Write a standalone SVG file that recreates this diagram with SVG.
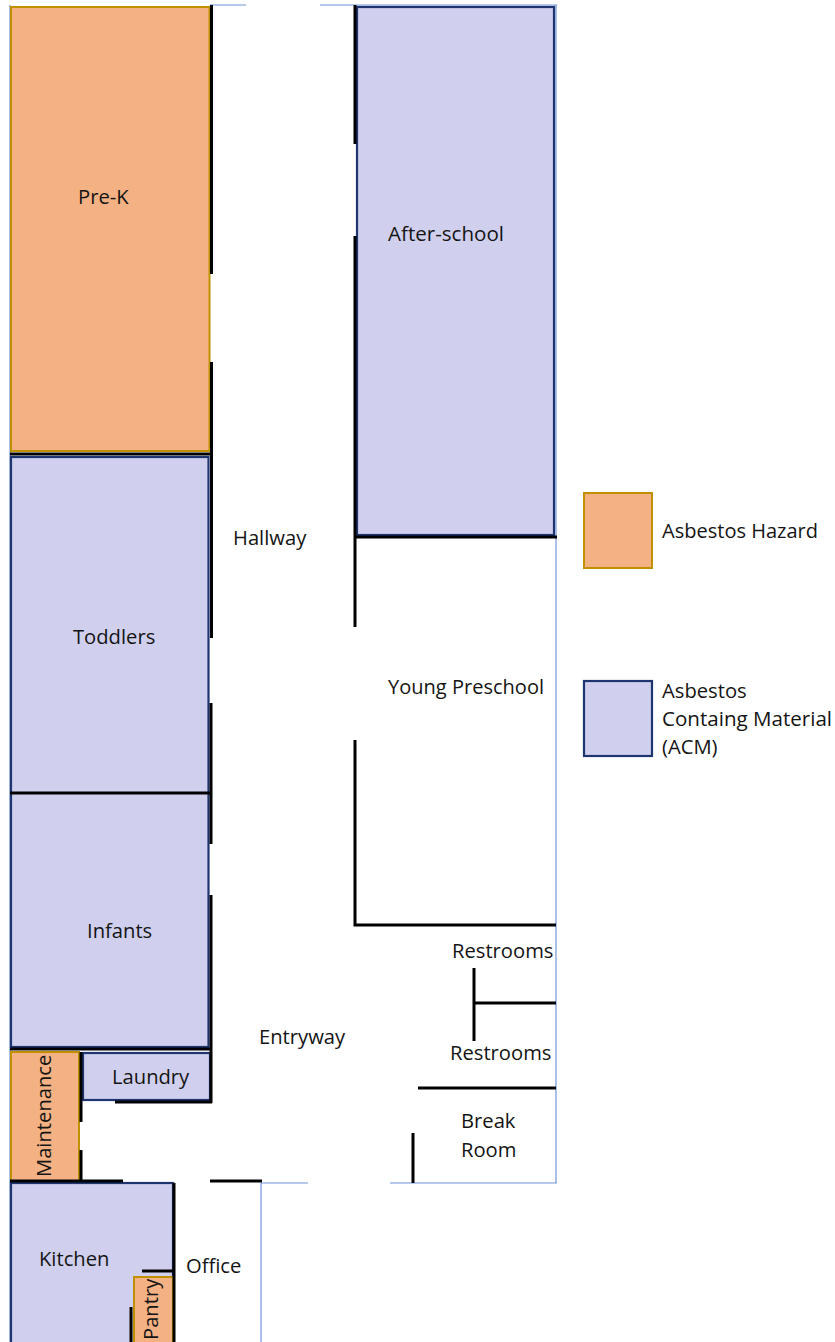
<svg xmlns="http://www.w3.org/2000/svg" width="835" height="1342" viewBox="0 0 835 1342">
<style>
text{font-family:"Open Sans","Noto Sans","Liberation Sans",sans-serif;font-size:20.2px;fill:#141414}
.hazard{fill:#f4b183;stroke:#bf9000;stroke-width:2}
.acm{fill:#d0d0ee;stroke:#1f3570;stroke-width:2.2}
.wall{stroke:#000;stroke-width:3;fill:none}
.thin{stroke:#7096dc;stroke-width:1.2;fill:none}
</style>
<rect width="835" height="1342" fill="#fff"/>
<g id="frame">
<path class="thin" d="M10 1342V5M210 5H246M320 5H557M556 5V1183M390 1183H557M261 1183H308M261 1183V1342"/>
</g>
<g id="pre-k"><rect class="hazard" x="11" y="7" width="198.500" height="444"/><text x="78" y="204">Pre-K</text></g>
<g id="after-school"><rect class="acm" x="357" y="7" width="197" height="528"/><text x="388" y="241" textLength="116" lengthAdjust="spacingAndGlyphs">After-school</text></g>
<g id="toddlers-infants"><rect class="acm" x="11" y="457" width="197.500" height="590"/></g>
<g id="toddlers"><text x="73" y="644">Toddlers</text></g>
<g id="infants"><text x="87" y="938">Infants</text></g>
<g id="laundry"><rect class="acm" x="83" y="1053" width="127" height="47"/><text x="112" y="1084">Laundry</text></g>
<g id="maintenance"><rect class="hazard" x="11" y="1052" width="68" height="129"/><text transform="translate(51 1177) rotate(-90)">Maintenance</text></g>
<g id="kitchen"><rect class="acm" x="11" y="1183" width="162" height="170"/><text x="39" y="1266">Kitchen</text></g>
<g id="pantry"><rect class="hazard" x="134" y="1277" width="39" height="75"/><text transform="translate(158 1340) rotate(-90)">Pantry</text></g>
<g id="office"><text x="186" y="1273">Office</text></g>
<g id="hallway"><text x="233" y="545">Hallway</text></g>
<g id="entryway"><text x="259" y="1044">Entryway</text></g>
<g id="young-preschool"><text x="388" y="694" textLength="156" lengthAdjust="spacingAndGlyphs">Young Preschool</text></g>
<g id="restrooms-1"><text x="452" y="958">Restrooms</text></g>
<g id="restrooms-2"><text x="450" y="1060">Restrooms</text></g>
<g id="break-room"><text x="461" y="1128">Break</text><text x="461" y="1157">Room</text></g>
<g id="legend-hazard"><rect class="hazard" x="584" y="493" width="68" height="75"/><text x="662" y="538" textLength="156" lengthAdjust="spacingAndGlyphs">Asbestos Hazard</text></g>
<g id="legend-acm"><rect class="acm" x="584" y="681" width="68" height="75"/><text x="662" y="698">Asbestos</text><text x="662" y="726" textLength="170" lengthAdjust="spacingAndGlyphs">Containg Material</text><text x="662" y="754">(ACM)</text></g>
<g id="connectors">
<path class="wall" d="M211.500 5V274M211.500 362V638M211 703V844M211 895V1103M115 1102H212M10 454H212M10 793H212M10 1049H212M81 1052V1122M81 1150V1181M10 1181H123M210 1181H262M174 1183V1342M142 1271H174M131 1307V1342"/>
<path class="wall" d="M355 5V144M355 236V627M355 740V925H556M355 537H557M474 968V1041M474 1003H556M418 1088H556M413 1133V1183"/>
</g>
</svg>
